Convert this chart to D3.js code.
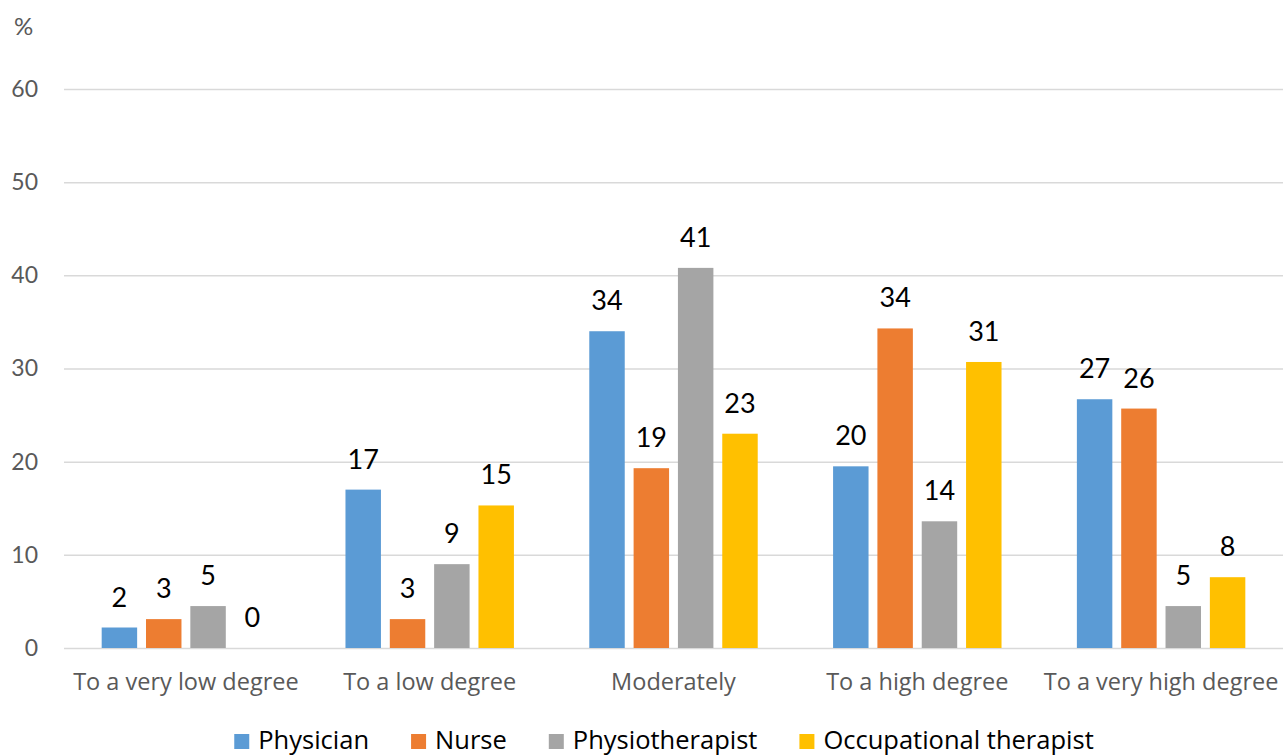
<!DOCTYPE html>
<html>
<head>
<meta charset="utf-8">
<script src="https://cdn.jsdelivr.net/npm/d3@7/dist/d3.min.js"></script>
<style>
  html, body { margin: 0; padding: 0; background: #fff; }
  svg { display: block; font-family: Lato, sans-serif; }
</style>
</head>
<body>
<svg id="chart" width="1283" height="756"></svg>
<script>
// Response categories along the x axis
const categories = ["To a very low degree", "To a low degree", "Moderately", "To a high degree", "To a very high degree"];
// Professional groups (one bar each per category)
const series = ["Physician", "Nurse", "Physiotherapist", "Occupational therapist"];
// Percentages per group, in category order
const physician = [2.2, 17.0, 34.0, 19.5, 26.7];
const nurse = [3.1, 3.1, 19.3, 34.3, 25.7];
const physiotherapist = [4.5, 9.0, 40.8, 13.6, 4.5];
const occupational = [0, 15.3, 23.0, 30.7, 7.6];
// Y axis ticks
const yTicks = [0, 10, 20, 30, 40, 50, 60];
const yUnit = "%";

const colors = ["#5B9BD5", "#ED7D31", "#A5A5A5", "#FFC000"];
const seriesValues = [physician, nurse, physiotherapist, occupational];

const svg = d3.select("#chart");
const plotLeft = 64, plotRight = 1283;

const x0 = d3.scaleBand().domain(categories).range([plotLeft, plotRight]).paddingInner(0).paddingOuter(0);
const x1 = d3.scaleBand().domain(series).range([0, x0.bandwidth()]).paddingInner(0.2).paddingOuter(0.85);
const y = d3.scaleLinear().domain([0, 60]).range([648, 89]);
const color = d3.scaleOrdinal().domain(series).range(colors);

// Horizontal gridlines and tick labels
const yAxis = d3.axisLeft(y).tickValues(yTicks).tickSize(-(plotRight - plotLeft)).tickPadding(26);
const gy = svg.append("g").attr("transform", `translate(${plotLeft},0)`).call(yAxis);
gy.select(".domain").remove();
gy.selectAll(".tick line").attr("stroke", "#D9D9D9").attr("stroke-width", 1.5);
gy.selectAll(".tick text")
  .attr("fill", "#595959")
  .style("font-size", "23px")
  .style("font-family", "Lato, sans-serif");

svg.append("text")
  .attr("x", 14).attr("y", 35)
  .attr("fill", "#595959")
  .style("font-size", "24px")
  .text(yUnit);

// Category axis labels
const xAxis = d3.axisBottom(x0).tickSize(0).tickPadding(25);
const gx = svg.append("g").attr("transform", "translate(0,648)").call(xAxis);
gx.select(".domain").remove();
gx.selectAll(".tick text")
  .attr("fill", "#595959")
  .style("font-size", "23.5px")
  .style("font-family", "'Open Sans', Lato, sans-serif");

// Rows of bar data
const rows = [];
categories.forEach((c, ci) => {
  series.forEach((s, si) => {
    rows.push({ category: c, series: s, value: seriesValues[si][ci] });
  });
});

const fmt = d3.format(".0f");
svg.append("g").selectAll("rect")
  .data(rows)
  .join("rect")
  .attr("x", d => x0(d.category) + x1(d.series))
  .attr("width", x1.bandwidth())
  .attr("y", d => y(d.value))
  .attr("height", d => y(0) - y(d.value))
  .attr("fill", d => color(d.series));

// Value labels above bars
svg.append("g").selectAll("text")
  .data(rows)
  .join("text")
  .attr("x", d => x0(d.category) + x1(d.series) + x1.bandwidth() / 2)
  .attr("y", d => y(d.value) - 21)
  .attr("text-anchor", "middle")
  .attr("fill", "#000")
  .style("font-size", "27px")
  .text(d => fmt(d.value));

// Legend
const legend = svg.append("g").attr("transform", "translate(0,749)");
const items = legend.selectAll("g").data(series).join("g");
items.append("rect")
  .attr("y", -15).attr("width", 15).attr("height", 15)
  .attr("fill", d => color(d));
items.append("text")
  .attr("x", 24).attr("y", 0)
  .attr("fill", "#000")
  .style("font-size", "25.5px")
  .style("font-family", "'Open Sans', Lato, sans-serif")
  .text(d => d);
const widths = [];
items.each(function () {
  widths.push(d3.select(this).select("text").node().getComputedTextLength() + 24);
});
const gap = 42;
const total = d3.sum(widths) + gap * (widths.length - 1);
let xpos = 664 - total / 2;
items.each(function (d, i) {
  d3.select(this).attr("transform", `translate(${xpos},0)`);
  xpos += widths[i] + gap;
});
</script>
</body>
</html>
